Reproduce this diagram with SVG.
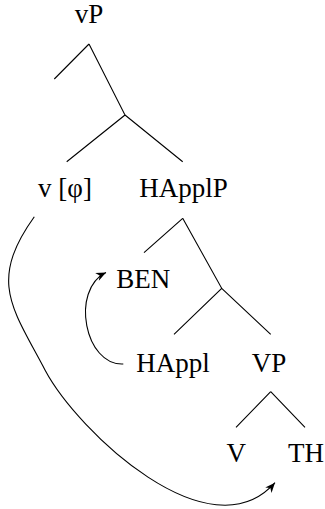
<svg xmlns="http://www.w3.org/2000/svg" width="325" height="509" viewBox="0 0 325 509">
<style>
text{font-family:"Liberation Serif","DejaVu Serif",serif;font-size:27px;fill:#000;text-anchor:middle}
.e{stroke:#000;stroke-width:1.1;fill:none}
</style>
<defs>
<marker id="ah" viewBox="-11 -5 12 10" refX="0" refY="0" markerWidth="12" markerHeight="10" markerUnits="userSpaceOnUse" orient="auto">
<path d="M0,0 L-10,-4.2 L-7,0 L-10,4.2 Z" fill="#000"/>
</marker>
</defs>
<rect width="325" height="509" fill="#fff"/>
<g id="edges">
<path class="e" d="M89,44 L54.3,79 M89,44 L125,115 L66.7,161.7 M125,115 L182.7,161.7"/>
<path class="e" d="M182.7,218.3 L144,252.7 M182.7,218.3 L221.7,288.3 L174,334.3 M221.7,288.3 L270.7,334.3"/>
<path class="e" d="M270.7,391.7 L236,427.3 M270.7,391.7 L305,427.3"/>
<path class="e" marker-end="url(#ah)" d="M123.3,364 C85,366 70,290 106,272.5"/>
<path class="e" marker-end="url(#ah)" d="M34.3,216.7 C-12.1,281.5 12.4,308 45,370 C78,432 210,556 275,482.7"/>
</g>
<g id="n-vP"><text x="89" y="23">vP</text></g>
<g id="n-v"><text x="65" y="197">v [φ]</text></g>
<g id="n-HApplP"><text x="183.5" y="197">HApplP</text></g>
<g id="n-BEN"><text x="143.3" y="288">BEN</text></g>
<g id="n-HAppl"><text x="173" y="371.7">HAppl</text></g>
<g id="n-VP"><text x="269" y="371.7">VP</text></g>
<g id="n-V"><text x="236.3" y="461.7">V</text></g>
<g id="n-TH"><text x="306" y="461.7">TH</text></g>
</svg>
